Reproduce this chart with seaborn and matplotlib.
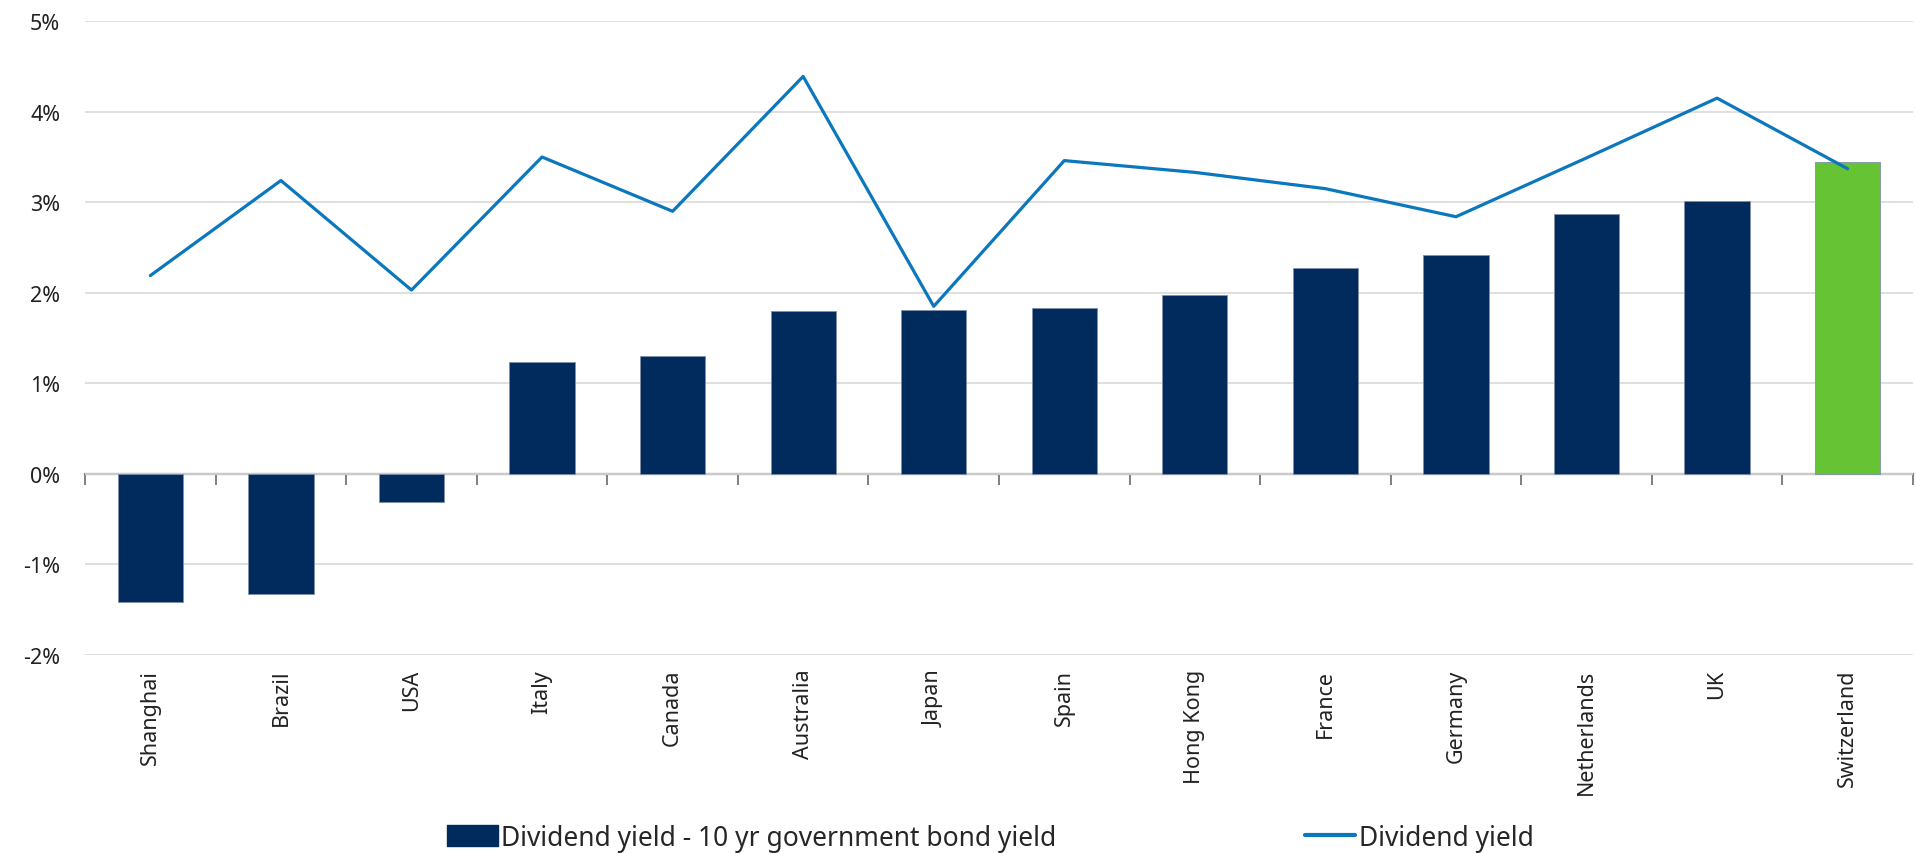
import numpy as np
import matplotlib
matplotlib.use("Agg")
import matplotlib.pyplot as plt
import seaborn as sns
from matplotlib.patches import Patch
from matplotlib.lines import Line2D
from matplotlib.ticker import FuncFormatter

countries = ["Shanghai", "Brazil", "USA", "Italy", "Canada", "Australia", "Japan",
             "Spain", "Hong Kong", "France", "Germany", "Netherlands", "UK", "Switzerland"]
yield_spread = [-1.42, -1.33, -0.31, 1.23, 1.30, 1.80, 1.81, 1.83, 1.98, 2.27, 2.42, 2.87, 3.01, 3.44]
dividend_yield = [2.19, 3.24, 2.03, 3.50, 2.90, 4.39, 1.85, 3.46, 3.33, 3.15, 2.84, 3.49, 4.15, 3.37]

navy = "#002B5C"
green = "#66C434"
blue = "#0B77BD"
bar_colors = [green if c == "Switzerland" else navy for c in countries]

sns.set_theme(style="white")
plt.rcParams["font.family"] = ["Noto Sans", "DejaVu Sans"]

fig = plt.figure(figsize=(19.16, 8.54), dpi=100)
ax = fig.add_axes([0.0444, 0.232, 0.954, 0.742])

sns.barplot(x=countries, y=yield_spread, hue=countries, palette=bar_colors,
            legend=False, width=0.5, saturation=1, edgecolor="#8090a8",
            linewidth=0.6, ax=ax)
sns.lineplot(x=np.arange(len(countries)), y=dividend_yield, color=blue, linewidth=2.3, ax=ax)

ax.set_xlim(-0.5, len(countries) - 0.5)
ax.set_ylim(-2, 5)
ax.set_yticks(range(-2, 6))
ax.yaxis.set_major_formatter(FuncFormatter(lambda v, p: f"{v:.0f}%"))
ax.grid(axis="y", color="#d9d9d9", linewidth=1.2)
ax.set_axisbelow(True)
for s in ax.spines.values():
    s.set_visible(False)
ax.tick_params(axis="y", length=0, pad=18, labelsize=15.5, colors="#222222")
ax.tick_params(axis="x", length=0, pad=10, labelsize=15.5, colors="#222222", rotation=90)
ax.set_xlabel("")
ax.set_ylabel("")

# zero axis with tick marks between categories
sec = ax.secondary_xaxis(2 / 7)
sec.set_xticks(np.arange(-0.5, len(countries), 1.0))
sec.set_xticklabels([])
sec.tick_params(length=8, width=1.4, color="#808080", direction="out")
sec.spines["bottom"].set_color("#808080")
sec.spines["bottom"].set_linewidth(1.6)
for k in ("top", "left", "right"):
    sec.spines[k].set_visible(False)

handles = [Patch(facecolor=navy, edgecolor=navy),
           Line2D([0], [0], color=blue, linewidth=3)]
labels = ["Dividend yield - 10 yr government bond yield", "Dividend yield"]
fig.legend(handles, labels, loc="center", bbox_to_anchor=(0.517, 0.018), ncol=2,
           frameon=False, fontsize=19, handlelength=1.9, handleheight=0.8,
           handletextpad=0.15, columnspacing=9.4)

fig.savefig("out.png", dpi=100)
